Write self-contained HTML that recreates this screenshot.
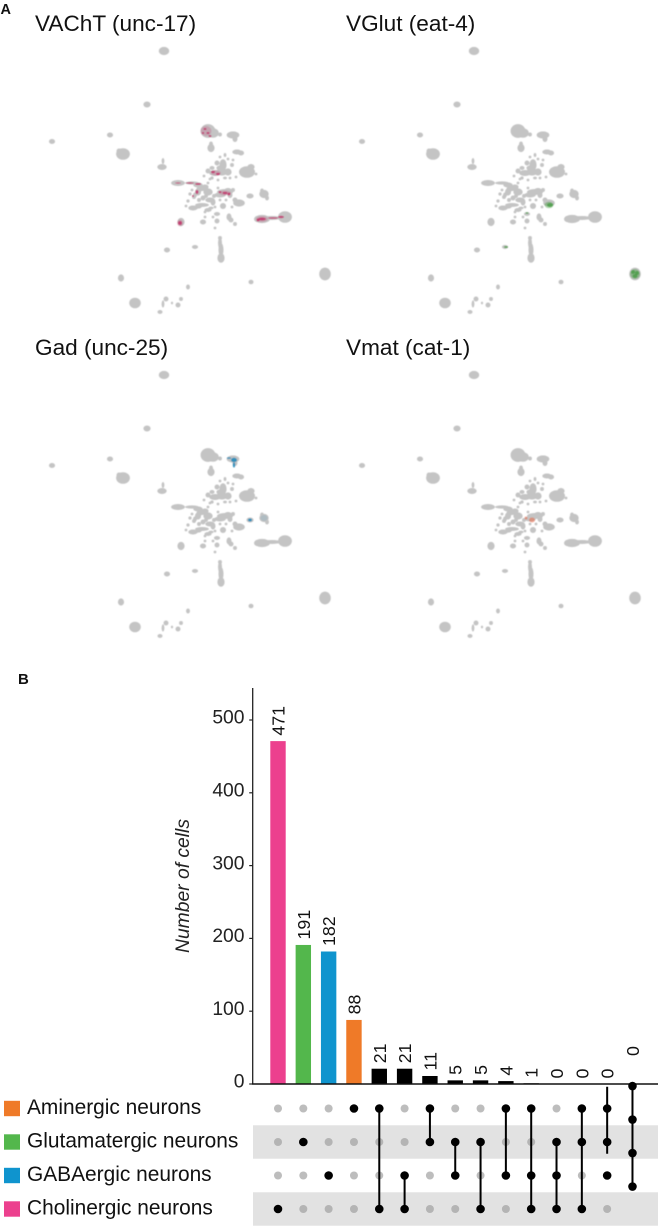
<!DOCTYPE html>
<html lang="en">
<head>
<meta charset="utf-8">
<title>Neurotransmitter marker expression and UpSet plot</title>
<style>
html,body{margin:0;padding:0;background:#fff;}
body{width:658px;height:1226px;overflow:hidden;}
svg{display:block;font-family:"Liberation Sans",Arial,sans-serif;}
</style>
</head>
<body>
<svg id="figure" xmlns="http://www.w3.org/2000/svg" width="658" height="1226" viewBox="0 0 658 1226">
  <defs>
    <filter id="soft" x="-5%" y="-5%" width="110%" height="110%"><feGaussianBlur stdDeviation="0.55"/></filter>
  </defs>
  <rect width="658" height="1226" fill="#fff"/>
  <text x="0.5" y="14" font-size="14.5" font-weight="700" fill="#111">A</text>
  <text x="18" y="684" font-size="15" font-weight="700" fill="#111">B</text>
  <g id="umaps"></g>
  <g id="upset"></g>
</svg>
<script>
/* ---------- UMAP data: [umap x, umap y, spread x, spread y] ---------- */
const grayClusters = [
  [164,51,4.5,3.5],[147,104.5,3,2.5],[52,141.5,2.5,2],[110,135,2.5,2],[123,154,6,5],[119,151,2,2],
  [208,131,6.5,6],[213,133,5,4],[220,134.5,1.5,1.5],[233,135,5.5,3],[235,139,2,2.5],
  [211,148,3,3.5],[211,144,1.5,2],[237,152,4,2],[241,153,2.5,2],
  [223,165,3,5],[215,173,5,2.5],[222,172,5,3],[208,171,2,2],[228,172,3,3],[228,159,1,1],[220,157,1,1],
  [232,165,1.5,1.5],[225,178,1.5,1],[236,177,1,1],[210,179,1,1],
  [247,172,7,5],[251,167,3,2.5],[256,174,1,1],
  [178,183,6,2.5],[192,183,6,1.2],[198,185,4,2],[203,188,4,2.5],[198,192,2.5,3],[208,192,4,3],
  [195,195,1.5,2],[203,198,2,2],[210,200,4,2],[213,202,2,3],[202,205,6,1.5],[193,208,4,2],[188,201,1.2,1.2],
  [194,197,1.5,1.5],[208,210,3,1.5],[225,192,7,2.5],[220,195,5,2],[230,195,2,2.5],
  [223,206,2.5,2.5],[215,207,1,1],[217,214,2.5,1.5],[232,207,1,1],[239,203,5,3],[235,200,2,2],
  [250,196,3,2],[264,194,4,3.5],[262,191,1.5,2],[267,198,1.5,2],
  [285,217,6,5],[272,218,8,1.5],[262,219,7,3.5],[257,219,2,2.5],[181,222,3,3.5],
  [203,222,2.5,2],[217,221,2,2],[205,217,1,1],[229,217,2,3],[231,220,2,2],[235,224,1.5,1.5],
  [220,238,1.5,1.5],[220,243,1.5,5],[221,250,2,6],[221,258,3,4],[195,247,2.5,1.5],[167,250,2.5,2],[251,282,2,1.8],
  [325,274,5,5.5],[121,278,2.5,3],[135,303,5,4.5],[188,287,1.5,2],[166,299,2,2],[163,304,1,3],
  [160,312,2,1.5],[181,299,1.5,1.5],[178,305,2,2],[172,303,0.7,1],[163,161,1,2.5],[162,167,4,2.5],
  [205,187,3,2],[200,189,3,2],[192,190,1,1],[190,194,1.2,1.2],[199,200,1.5,1.5],[206,196,1.5,1.5],
  [214,196,1.5,1.5],[211,208,2,1],[198,207,3,1.2],[218,188,1,1],[228,190,3,1.5],[233,190,1.5,1.5],
  [220,200,1,1],[226,200,1,1],[205,212,1,1],[213,217,1,1],[212,178,1.2,1.2],[218,180,1,1],[230,178,1,1],
  [233,160,1,1],[225,155,1,1.5],[217,163,2,2],[220,168,3,2],[212,168,2,1.5],[204,176,1,1],[208,183,1,1],
  [186,206,1,1],[215,228,1,1]
];
const vachtHits = [
  [205,129,1.5,1],[208,133,1.5,1],[203,133,1.2,1],[210,136,1.5,1],[213,172,2,1.2],[218,174,2,1.2],
  [220,192,1.5,1],[225,193,2.5,1.2],[229,194,1.5,1.5],[193,196,1,1],
  [198,184,3,1],[190,183,4,0.7],[180,223,2,2],[281,217,3,1.2],[273,218,5,0.8],[262,219,4,1.5],[258,220,1.5,1.5],[197,192,1.5,2],[178,183,3,0.6]
];
const vachtWash = [[206,131,5.5,5],[180,223,3,3.5],[262,219,6,3],[216,173,5,2.5],[225,193,6,2.5]];
const vglutHits = [[240,205,3,2],[323,272,2,2],[327,273,2,2],[325,276,2.5,2],[196,247,2,1],[217,213,1.5,0.8]];
const vglutWash = [[325,274,5,5],[239,205,4.5,3.2]];
const gadHits = [[234,136,3,2.2],[234,141,1.2,2.5],[229,134,2.2,0.8],[250,196,2,1.5]];
const gadWash = [[264,194,3.5,3]];
const vmatHits = [[216,194,1.5,1.5],[222,196,3,2.5]];
const vmatWash = [];

/* ---------- UpSet data ---------- */
const setNames = ["Aminergic neurons","Glutamatergic neurons","GABAergic neurons","Cholinergic neurons"];
const barValues = [471,191,182,88,21,21,11,5,5,4,1,0,0,0,0];
const columnSets = [[3],[1],[2],[0],[0,3],[2,3],[0,1],[1,2],[1,3],[0,2],[0,2,3],[1,2,3],[0,1,3],[0,1,2],[0,1,2,3]];
const yTicks = [0,100,200,300,400,500];

const NS = "http://www.w3.org/2000/svg";
function make(tag, attrs, parent, txt){
  const el = document.createElementNS(NS, tag);
  for (const k in attrs) el.setAttribute(k, attrs[k]);
  if (txt !== undefined) el.textContent = txt;
  parent.appendChild(el);
  return el;
}

/* ---------- UMAP panels ---------- */
const panels = [
  {key:"vacht", title:"VAChT (unc-17)", dx:0,   dy:0,   tx:35,  ty:31,  hits:vachtHits, wash:vachtWash, color:"#c2185b", op:0.7,  washOp:0.18},
  {key:"vglut", title:"VGlut (eat-4)",  dx:310, dy:0,   tx:346, ty:31,  hits:vglutHits, wash:vglutWash, color:"#3f9a3a", op:0.7,  washOp:0.4},
  {key:"gad",   title:"Gad (unc-25)",   dx:0,   dy:324, tx:35,  ty:355, hits:gadHits,   wash:gadWash,   color:"#1787b8", op:0.85, washOp:0.12},
  {key:"vmat",  title:"Vmat (cat-1)",   dx:310, dy:324, tx:346, ty:355, hits:vmatHits,  wash:vmatWash,  color:"#ea5f3a", op:0.5,  washOp:0.2}
];
const umapRoot = document.getElementById("umaps");
panels.forEach(function(p){
  const sx = function(v){ return p.dx + v; };
  const sy = function(v){ return p.dy + v; };
  const g = make("g", {}, umapRoot);
  
  
  const t = make("text", {x:p.tx, y:p.ty, "font-size":22.6, fill:"#111"}, g, p.title);
  
  
  const cloud = make("g", {filter:"url(#soft)"}, g);
  
  
  grayClusters.forEach(function(c){
    const e = make("ellipse", {cx:sx(c[0]), cy:sy(c[1]), rx:c[2]*1.1+0.3, ry:c[3]*1.1+0.3, fill:"#c4c4c4"}, cloud);
    
    
  });
  p.wash.forEach(function(c){
    const e = make("ellipse", {cx:sx(c[0]), cy:sy(c[1]), rx:c[2], ry:c[3], fill:p.color, "fill-opacity":p.washOp}, cloud);
    
    
  });
  p.hits.forEach(function(c){
    const e = make("ellipse", {cx:sx(c[0]), cy:sy(c[1]), rx:c[2], ry:c[3], fill:p.color, "fill-opacity":p.op}, cloud);
    
    
  });
});

/* ---------- UpSet plot ---------- */
const upset = document.getElementById("upset");
const setColors = ["#EF7A28","#53B74C","#0F94CE","#EC408E"];
const baseY = 1084, unitY = 0.728;
const axisX = 252.7;
const y = function(v){ return baseY - v * unitY; };
const colX = function(i){ return 278 + i * 25.32; };
const rowY = function(r){ return 1108.5 + r * 33.5; };
const barW = 15.4;

/* shaded matrix rows */
[1,3].forEach(function(r){
  const band = make("rect", {x:253, y:rowY(r)-16.7, width:405, height:33.4, fill:"#e2e2e2"}, upset);
  
  
});

/* y axis */
const yAxis = make("line", {x1:axisX, x2:axisX, y1:688, y2:baseY, stroke:"#222", "stroke-width":1.3}, upset);


yTicks.forEach(function(v){
  const tick = make("line", {x1:axisX-3.5, x2:axisX, y1:y(v), y2:y(v), stroke:"#222", "stroke-width":1.2}, upset);
  
  
  const lab = make("text", {x:244.5, y:y(v)+3.7, "text-anchor":"end", "font-size":19.3, fill:"#222"}, upset, String(v));
  
  
});
const yTitle = make("text", {transform:"translate(189 886) rotate(-90)", "text-anchor":"middle", "font-size":19.3, "font-style":"italic", fill:"#222"}, upset, "Number of cells");



/* bars and value labels */
barValues.forEach(function(v, i){
  const sets = columnSets[i];
  const fill = sets.length === 1 ? setColors[sets[0]] : "#000";
  const bar = make("rect", {x:colX(i)-barW/2, y:y(v), width:barW, height:baseY-y(v), fill:fill}, upset);
  
  
  const lift = i === barValues.length - 1 ? 28 : 5.5;
  const lab = make("text", {transform:"translate(" + (colX(i)+6.5) + " " + (y(v)-lift) + ") rotate(-90)", "font-size":17.8, fill:"#111"}, upset, String(v));
  
  
});
const baseline = make("line", {x1:axisX-0.6, x2:658, y1:baseY, y2:baseY, stroke:"#111", "stroke-width":1.4}, upset);



/* matrix dots and connectors */
columnSets.forEach(function(sets, i){
  const isLast = i === columnSets.length - 1;
  const dotShift = isLast ? -0.67 : 0;
  const lineShift = i === columnSets.length - 2 ? -0.65 : dotShift;
  setNames.forEach(function(name, r){
    const on = sets.indexOf(r) >= 0;
    if (!on && isLast) return;
    const dot = make("circle", {cx:colX(i), cy:rowY(r + dotShift), r:on ? 4.3 : 4, fill:on ? "#000" : (r % 2 ? "#b4b4b4" : "#bdbdbd")}, upset);
    
    
  });
  if (sets.length > 1) {
    const first = Math.min.apply(null, sets), last = Math.max.apply(null, sets);
    const link = make("line", {x1:colX(i), x2:colX(i), y1:rowY(first + lineShift), y2:rowY(last + lineShift), stroke:"#000", "stroke-width":2}, upset);
    
    
  }
});

/* legend */
setNames.forEach(function(name, r){
  const sw = make("rect", {x:4, y:rowY(r)-7.7, width:16, height:15.4, fill:setColors[r]}, upset);
  
  
  const lab = make("text", {x:27, y:rowY(r)+5.5, "font-size":20.9, fill:"#111"}, upset, name);
  
  
});
</script>
</body>
</html>
